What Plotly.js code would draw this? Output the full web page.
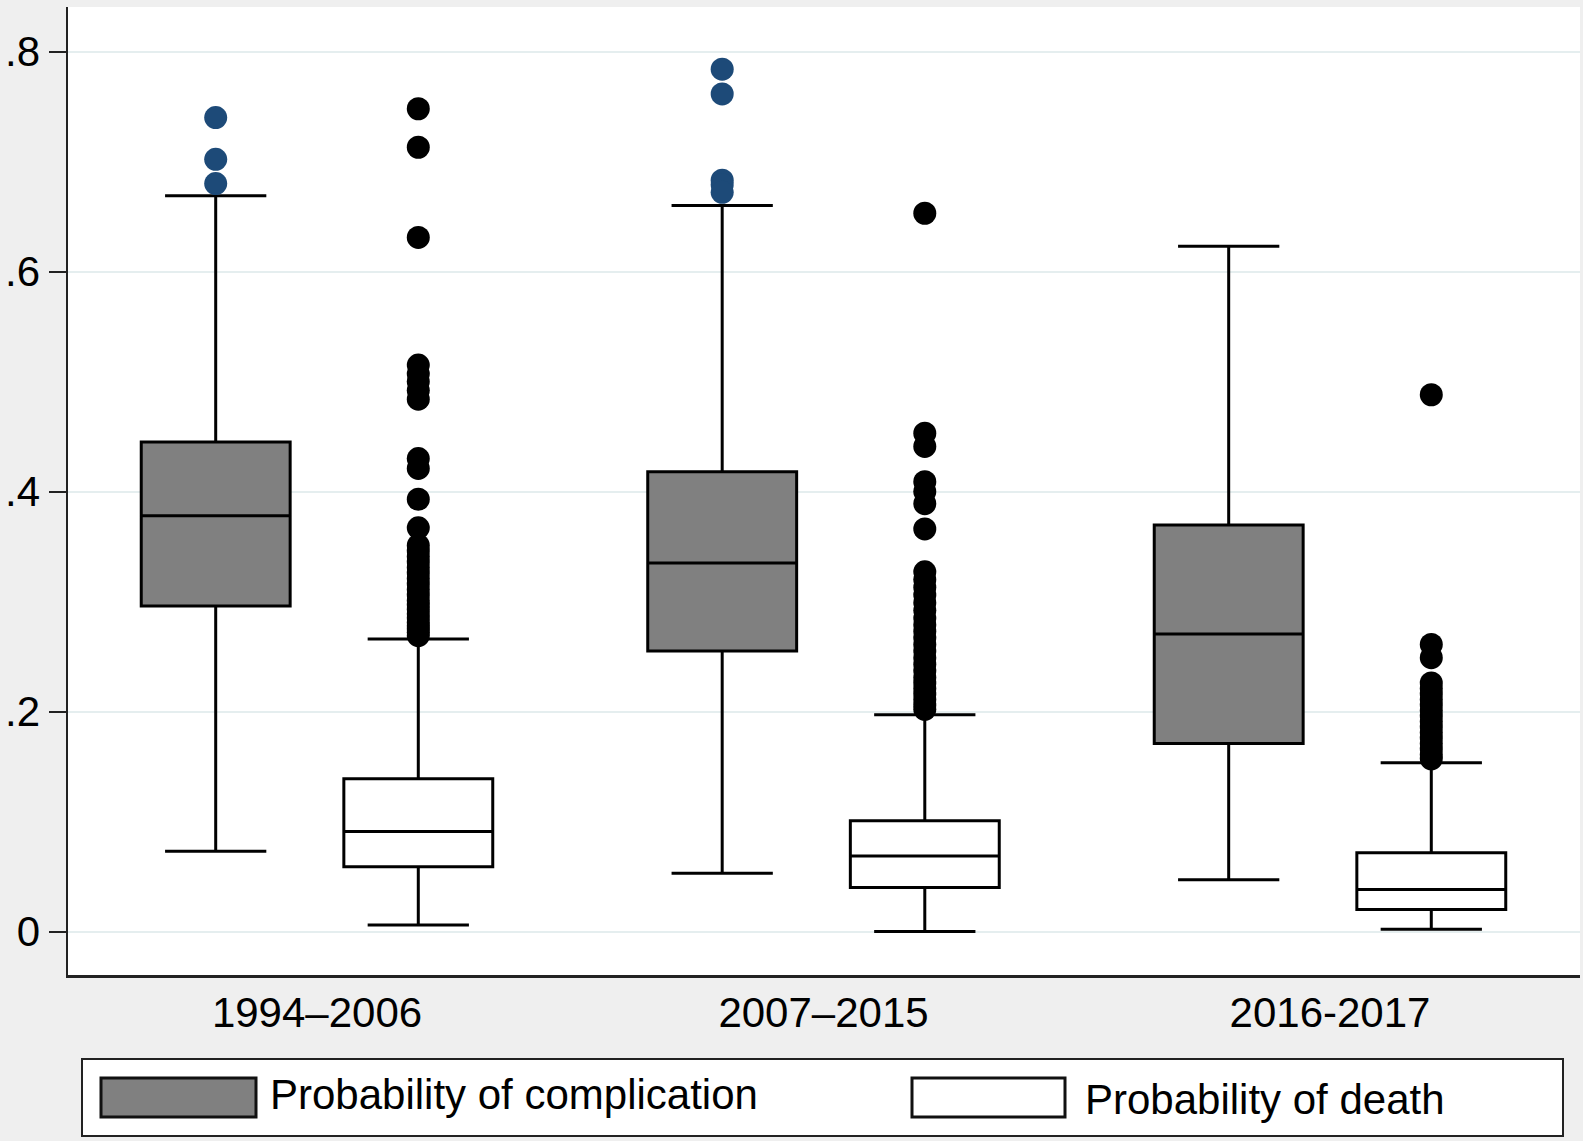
<!DOCTYPE html>
<html>
<head>
<meta charset="utf-8">
<script src="https://cdn.plot.ly/plotly-3.0.1.min.js"></script>
<style>
  html, body { margin: 0; padding: 0; background: #efefef; }
  #chart { width: 1583px; height: 1141px; }
</style>
</head>
<body>
<div id="chart"></div>
<script>
// ---- data ----
const periods = ['1994–2006', '2007–2015', '2016-2017'];

// Probability of complication
const compQ1     = [0.296, 0.255, 0.171];
const compMedian = [0.378, 0.335, 0.2705];
const compQ3     = [0.445, 0.418, 0.3695];
const compLower  = [0.073, 0.053, 0.047];
const compUpper  = [0.669, 0.660, 0.623];
const compOutliers = [
  [0.740, 0.702, 0.680],
  [0.784, 0.7615, 0.683, 0.679, 0.672],
  []
];

// Probability of death
const deathQ1     = [0.059, 0.040, 0.020];
const deathMedian = [0.091, 0.0686, 0.0383];
const deathQ3     = [0.139, 0.1007, 0.0716];
const deathLower  = [0.006, 0.000, 0.002];
const deathUpper  = [0.266, 0.197, 0.1535];
const deathOutliers = [
  [0.748, 0.713, 0.631, 0.515, 0.507, 0.500, 0.492, 0.484, 0.430, 0.421, 0.393, 0.367,
   0.351, 0.346, 0.341, 0.336, 0.331, 0.326, 0.321, 0.316, 0.311, 0.306, 0.301, 0.297,
   0.293, 0.289, 0.285, 0.281, 0.278, 0.275, 0.272, 0.269],
  [0.653, 0.453, 0.441, 0.409, 0.400, 0.389, 0.366, 0.327, 0.320, 0.313, 0.306, 0.299,
   0.292, 0.285, 0.279, 0.273, 0.267, 0.261, 0.255, 0.249, 0.243, 0.237, 0.231, 0.226,
   0.221, 0.216, 0.211, 0.206, 0.202],
  [0.488, 0.261, 0.249, 0.226, 0.221, 0.216, 0.211, 0.206, 0.201, 0.196, 0.191, 0.186,
   0.181, 0.176, 0.171, 0.166, 0.161, 0.157]
];

const seriesNames = ['Probability of complication', 'Probability of death'];
const yTickVals = [0, 0.2, 0.4, 0.6, 0.8];
const yTickText = ['0', '.2', '.4', '.6', '.8'];

// ---- layout helpers ----
const FONT = 'Liberation Sans, Arial, Helvetica, sans-serif';
const FS = 42;
const W = 1583, H = 1141;
const M = { l: 68, r: 3, t: 7, b: 166 };
const plotW = W - M.l - M.r, plotH = H - M.t - M.b;
const px = v => (v - M.l) / plotW;          // pixel x -> paper x
const py = v => (H - M.b - v) / plotH;      // pixel y -> paper y

const OFF = 0.2, BOXW = 0.294;
const idx = periods.map((_, i) => i);
const compX = idx.map(i => i - OFF);
const deathX = idx.map(i => i + OFF);

function flatPts(lists, xs) {
  const x = [], y = [];
  lists.forEach((arr, i) => arr.forEach(v => { x.push(xs[i]); y.push(v); }));
  return { x, y };
}
const cPts = flatPts(compOutliers, compX);
const dPts = flatPts(deathOutliers, deathX);

const traces = [
  {
    type: 'box', name: seriesNames[0], x: compX,
    q1: compQ1, median: compMedian, q3: compQ3,
    lowerfence: compLower, upperfence: compUpper,
    width: BOXW, whiskerwidth: 0.68, boxpoints: false,
    fillcolor: '#808080', line: { color: '#000000', width: 3 },
    showlegend: false
  },
  {
    type: 'box', name: seriesNames[1], x: deathX,
    q1: deathQ1, median: deathMedian, q3: deathQ3,
    lowerfence: deathLower, upperfence: deathUpper,
    width: BOXW, whiskerwidth: 0.68, boxpoints: false,
    fillcolor: '#ffffff', line: { color: '#000000', width: 3 },
    showlegend: false
  },
  {
    type: 'scatter', mode: 'markers', name: seriesNames[0] + ' outliers',
    x: cPts.x, y: cPts.y,
    marker: { color: '#1d4a78', size: 23 }, showlegend: false
  },
  {
    type: 'scatter', mode: 'markers', name: seriesNames[1] + ' outliers',
    x: dPts.x, y: dPts.y,
    marker: { color: '#000000', size: 23 }, showlegend: false
  }
];

// custom legend (Stata style)
const shapes = [
  { type: 'rect', xref: 'paper', yref: 'paper', x0: px(82), x1: px(1563), y0: py(1059), y1: py(1136),
    fillcolor: '#ffffff', line: { color: '#222222', width: 2 } },
  { type: 'rect', xref: 'paper', yref: 'paper', x0: px(101), x1: px(256), y0: py(1078), y1: py(1117),
    fillcolor: '#808080', line: { color: '#111111', width: 3 } },
  { type: 'rect', xref: 'paper', yref: 'paper', x0: px(912), x1: px(1065), y0: py(1078), y1: py(1117),
    fillcolor: '#ffffff', line: { color: '#111111', width: 3 } }
];
const annotations = [
  { xref: 'paper', yref: 'paper', x: px(268), y: py(1094), xanchor: 'left', yanchor: 'middle',
    text: seriesNames[0], showarrow: false, font: { family: FONT, size: FS, color: '#000' } },
  { xref: 'paper', yref: 'paper', x: px(1083), y: py(1100), xanchor: 'left', yanchor: 'middle',
    text: seriesNames[1], showarrow: false, font: { family: FONT, size: FS, color: '#000' } }
];

const layout = {
  width: W, height: H,
  margin: M,
  paper_bgcolor: '#efefef',
  plot_bgcolor: '#ffffff',
  font: { family: FONT, size: FS, color: '#000' },
  showlegend: false,
  xaxis: {
    range: [-0.4916, 2.4936],
    tickvals: idx, ticktext: periods,
    showgrid: false, zeroline: false,
    showline: true, linecolor: '#222222', linewidth: 2.5,
    ticks: '', ticklabelstandoff: -1,
    tickfont: { family: FONT, size: FS, color: '#000' },
    fixedrange: true
  },
  yaxis: {
    range: [-0.0395, 0.8405],
    tickvals: yTickVals, ticktext: yTickText,
    showgrid: true, gridcolor: '#e5eeef', gridwidth: 2,
    zeroline: false,
    showline: true, linecolor: '#222222', linewidth: 2.5,
    ticks: 'outside', ticklen: 17, tickwidth: 2, tickcolor: '#222222',
    tickfont: { family: FONT, size: FS, color: '#000' },
    fixedrange: true
  },
  shapes: shapes,
  annotations: annotations
};

Plotly.newPlot('chart', traces, layout, { displayModeBar: false, staticPlot: true });
</script>
</body>
</html>
